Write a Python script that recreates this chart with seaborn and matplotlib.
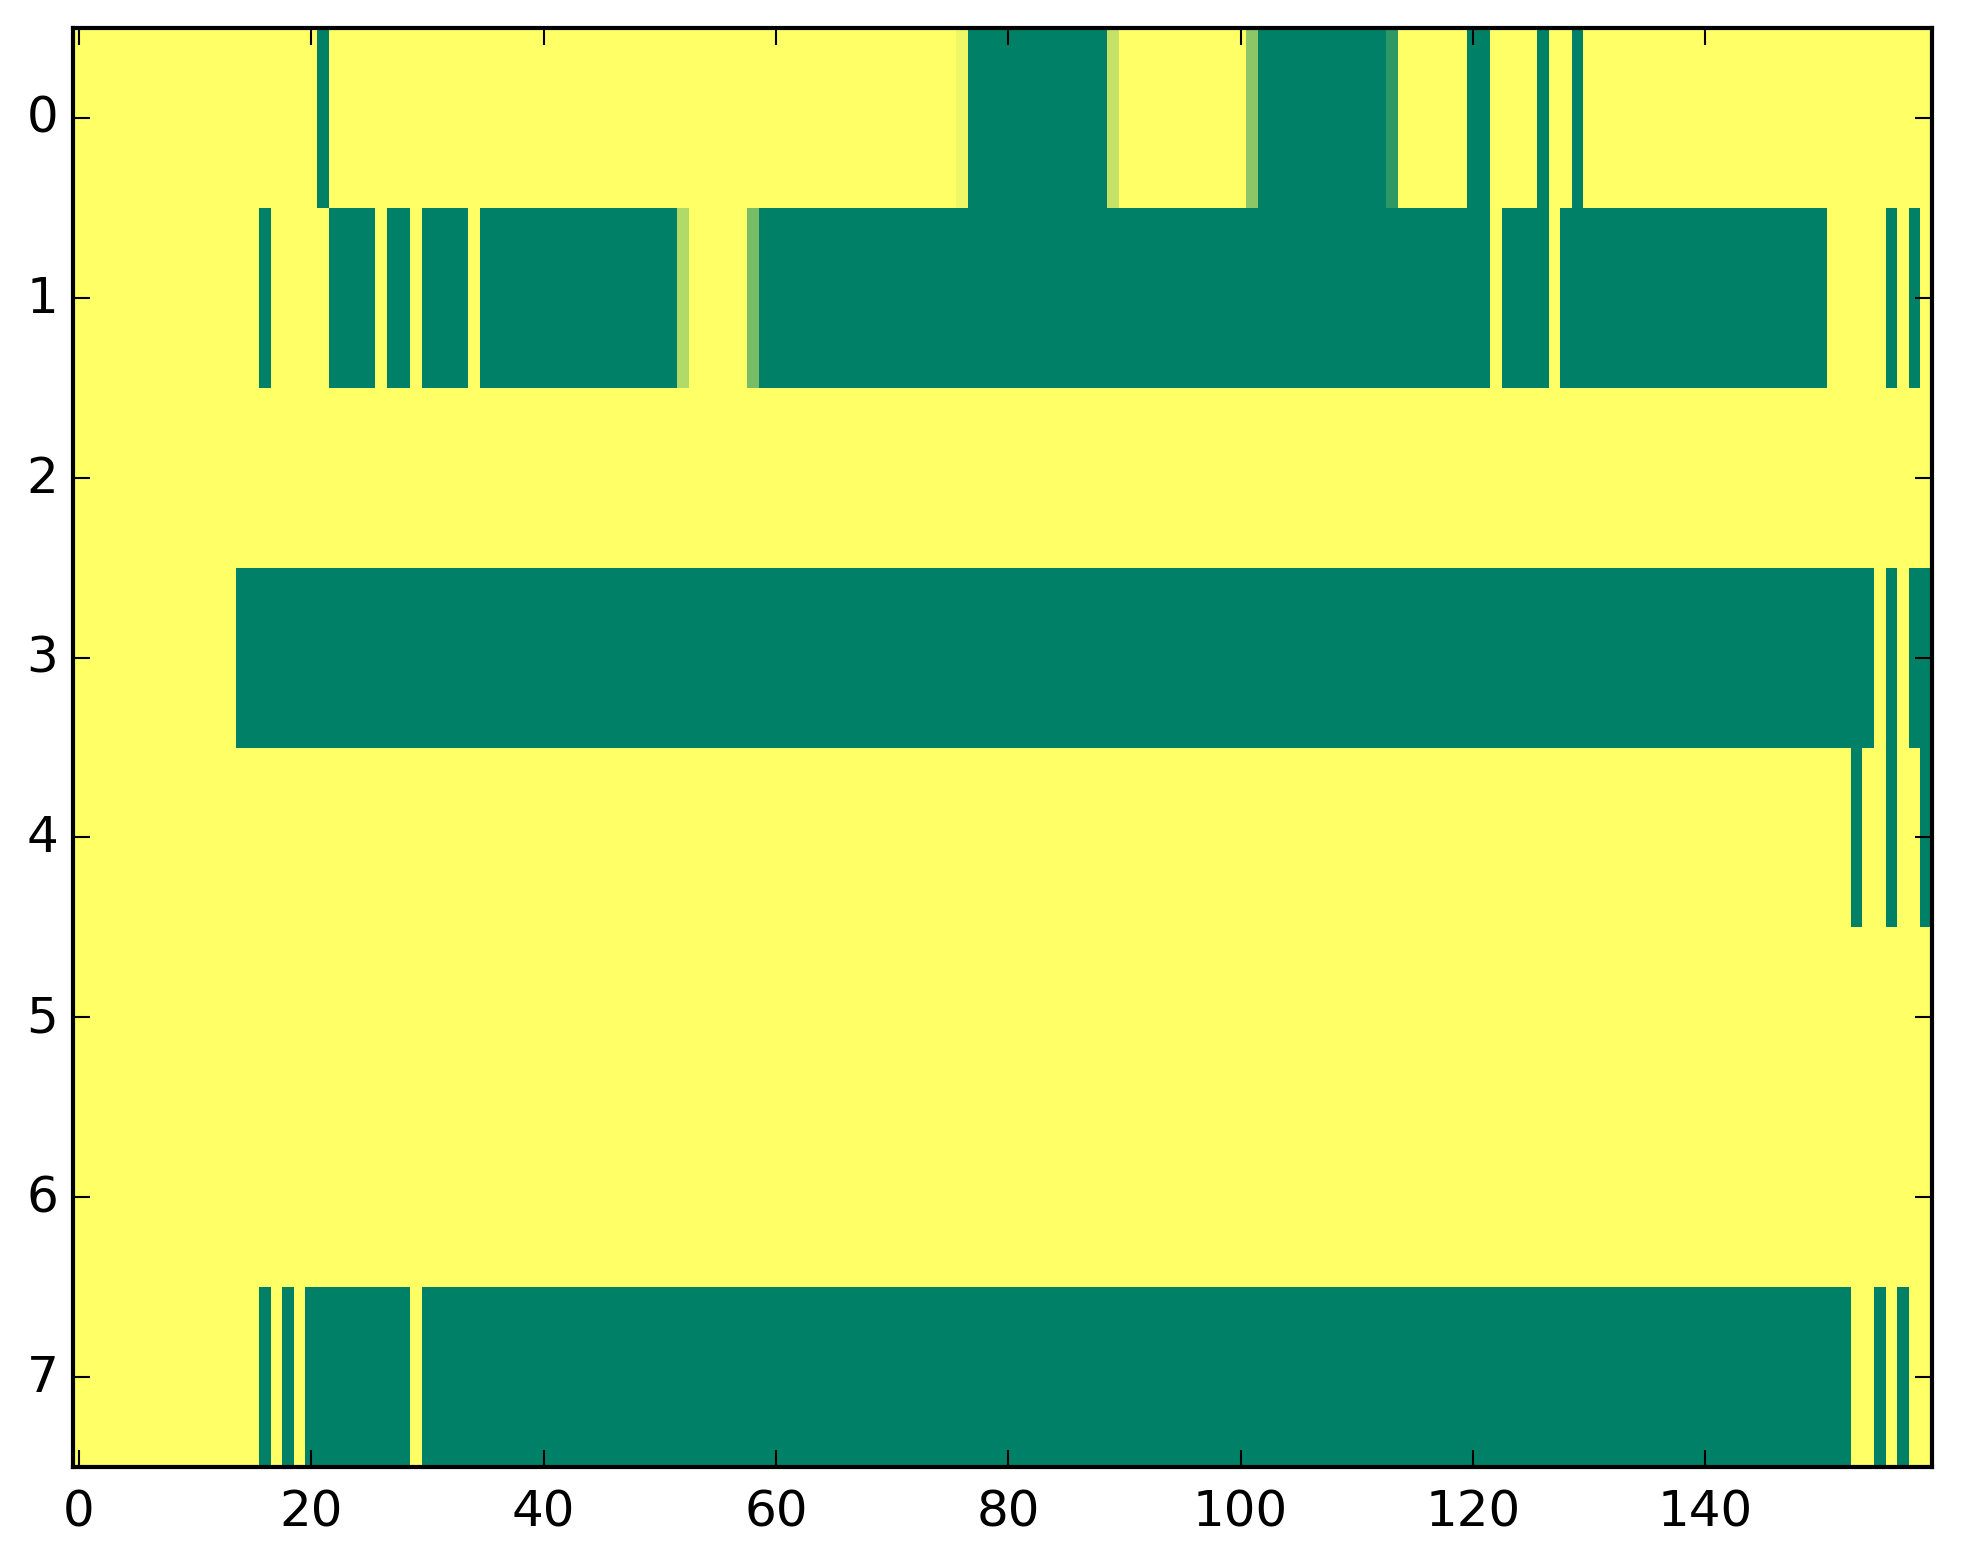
import numpy as np
import pandas as pd
import matplotlib
matplotlib.use("Agg")
import matplotlib.pyplot as plt
import seaborn as sns

plt.style.use("classic")

n_rows = 8
n_cols = 160

# Segments of non-zero cells per row: (first column, last column, value)
row0_segments = [(21, 21, 1.0), (76, 76, 0.07), (77, 88, 1.0), (89, 89, 0.23),
                 (101, 101, 0.45), (102, 112, 1.0), (113, 113, 0.82),
                 (120, 121, 1.0), (126, 126, 1.0), (129, 129, 1.0)]
row1_segments = [(16, 16, 1.0), (22, 25, 1.0), (27, 28, 1.0), (30, 33, 1.0),
                 (35, 51, 1.0), (52, 52, 0.30), (58, 58, 0.53), (59, 121, 1.0),
                 (123, 126, 1.0), (128, 150, 1.0), (156, 156, 1.0), (158, 158, 1.0)]
row2_segments = []
row3_segments = [(14, 154, 1.0), (156, 156, 1.0), (158, 159, 1.0)]
row4_segments = [(153, 153, 1.0), (156, 156, 1.0), (159, 159, 1.0)]
row5_segments = []
row6_segments = []
row7_segments = [(16, 16, 1.0), (18, 18, 1.0), (20, 28, 1.0), (30, 152, 1.0),
                 (155, 155, 1.0), (157, 157, 1.0)]

all_segments = [row0_segments, row1_segments, row2_segments, row3_segments,
                row4_segments, row5_segments, row6_segments, row7_segments]

x_tick_values = [0, 20, 40, 60, 80, 100, 120, 140]
y_tick_values = [0, 1, 2, 3, 4, 5, 6, 7]

grid = np.zeros((n_rows, n_cols))
for r, segs in enumerate(all_segments):
    for a, b, v in segs:
        grid[r, a:b + 1] = v
df = pd.DataFrame(grid)

fig = plt.figure(figsize=(1963 / 300, 1564 / 300), dpi=300, facecolor="white")
ax = fig.add_axes([73 / 1963, 1 - 1468 / 1564, (1932 - 73) / 1963, (1468 - 29) / 1564])

sns.heatmap(df, ax=ax, cmap="summer_r", vmin=0, vmax=1, cbar=False,
            linewidths=0, xticklabels=False, yticklabels=False)

for s in ax.spines.values():
    s.set_visible(True)
    s.set_linewidth(1.0)
    s.set_color("black")

ax.set_xticks([c + 0.5 for c in x_tick_values])
ax.set_xticklabels([str(c) for c in x_tick_values], rotation=0)
ax.set_yticks([r + 0.5 for r in y_tick_values])
ax.set_yticklabels([str(r) for r in y_tick_values], rotation=0)
ax.tick_params(axis="both", which="major", direction="in", length=4, width=0.5,
               top=True, right=True, labeltop=False, labelright=False,
               labelsize=12, colors="black")
ax.tick_params(axis="y", pad=3.5)
ax.tick_params(axis="x", pad=5)
ax.set_xlim(0, n_cols)
ax.set_ylim(n_rows, 0)
ax.set_xlabel("")
ax.set_ylabel("")

fig.savefig("out.png", dpi=300, facecolor="white")
